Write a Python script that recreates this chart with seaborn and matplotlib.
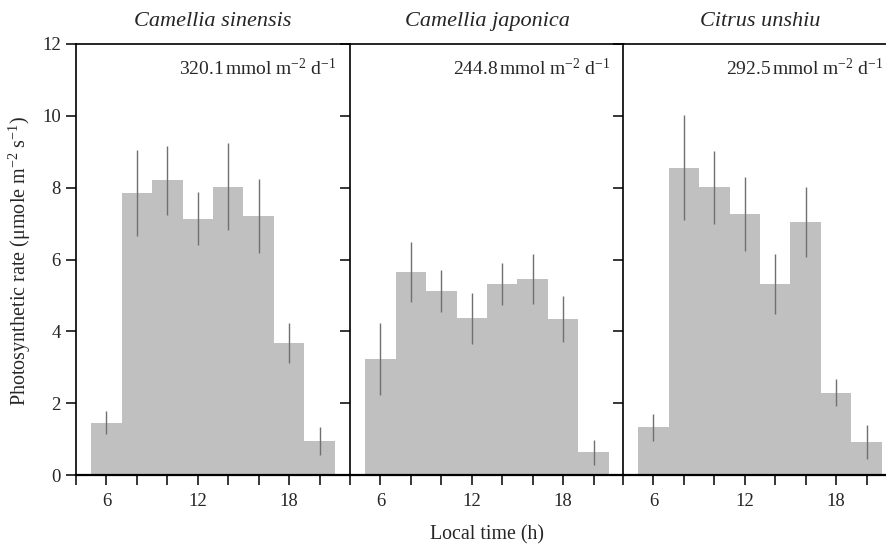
import numpy as np
import pandas as pd
import seaborn as sns
import matplotlib.pyplot as plt

# hourly means, bins of 2 h centred on these times
hours = [6, 8, 10, 12, 14, 16, 18, 20]
species = ['Camellia sinensis', 'Camellia japonica', 'Citrus unshiu']
daily_totals = ['320.1', '244.8', '292.5']

sinensis_mean = [1.46, 7.86, 8.20, 7.13, 8.03, 7.21, 3.67, 0.95]
sinensis_sd = [0.33, 1.20, 0.97, 0.74, 1.22, 1.03, 0.55, 0.40]
japonica_mean = [3.23, 5.65, 5.13, 4.36, 5.32, 5.45, 4.34, 0.63]
japonica_sd = [1.00, 0.84, 0.58, 0.71, 0.58, 0.70, 0.65, 0.35]
unshiu_mean = [1.33, 8.55, 8.01, 7.27, 5.31, 7.04, 2.29, 0.91]
unshiu_sd = [0.37, 1.46, 1.02, 1.03, 0.84, 0.97, 0.38, 0.47]

means = [sinensis_mean, japonica_mean, unshiu_mean]
sds = [sinensis_sd, japonica_sd, unshiu_sd]

sns.set_style('ticks')
plt.rcParams['font.family'] = ['Liberation Serif', 'DejaVu Serif']
plt.rcParams['mathtext.fontset'] = 'custom'
plt.rcParams['mathtext.rm'] = 'Liberation Serif'
plt.rcParams['mathtext.it'] = 'Liberation Serif:italic'

W, H = 887, 547
fig = plt.figure(figsize=(W / 100, H / 100), dpi=100)

lefts = [76, 350, 623]
for i, name in enumerate(species):
    ax = fig.add_axes([lefts[i] / W, 72 / H, 274 / W, 431 / H])
    df = pd.DataFrame({'hour': hours, 'rate': means[i]})
    sns.barplot(data=df, x='hour', y='rate', native_scale=True, width=1.0,
                color='#c0c0c0', saturation=1, errorbar=None, ax=ax,
                linewidth=0)
    ax.errorbar(hours, means[i], yerr=sds[i], fmt='none', ecolor='#707070',
                elinewidth=1.0, capsize=0)

    ax.set_xlim(4, 22)
    ax.set_ylim(0, 12)
    ax.set_xticks([6, 12, 18])
    ax.set_xticks(np.arange(4, 22, 2), minor=True)
    ax.set_yticks(np.arange(0, 13, 2))
    ax.tick_params(axis='both', which='both', direction='out', length=7,
                   width=1.1, color='black', labelsize=13.5, pad=4)
    ax.tick_params(axis='x', which='major', pad=6)
    if i > 0:
        ax.set_yticklabels([])
    ax.set_xlabel('')
    ax.set_ylabel('')

    for side in ['left', 'top', 'bottom']:
        ax.spines[side].set_visible(True)
        ax.spines[side].set_color('black')
        ax.spines[side].set_linewidth(1.2)
    ax.spines['bottom'].set_linewidth(1.6)
    ax.spines['right'].set_visible(False)

    ax.set_title(name, style='italic', fontsize=16, pad=13)
    ax.text(21.1, 11.33, daily_totals[i] + r'$\,$mmol m$^{-2}$ d$^{-1}$',
            ha='right', va='center', fontsize=14)

fig.text(0.0225, 1 - 261 / H,
         r'Photosynthetic rate ($\mathrm{\mu}$mole m$^{-2}$ s$^{-1}$)',
         rotation=90, ha='center', va='center', fontsize=14.5)
fig.text(487 / W, 1 - 535 / H, 'Local time (h)', ha='center', va='center',
         fontsize=14.3)

fig.savefig('out.png', dpi=100)
